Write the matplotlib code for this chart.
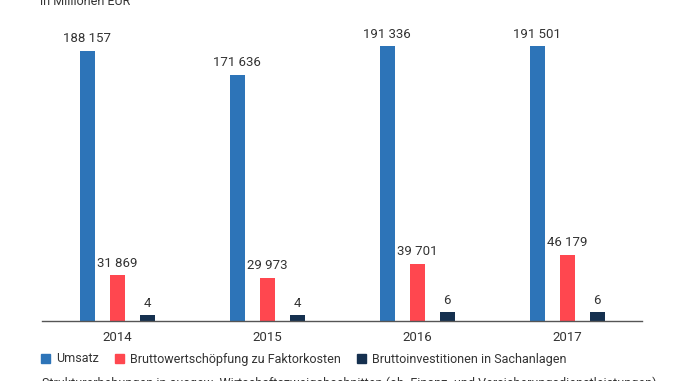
import matplotlib
matplotlib.use('Agg')
import matplotlib.pyplot as plt
from matplotlib.patches import Patch
import numpy as np

plt.rcParams['font.family'] = ['Roboto', 'DejaVu Sans']

years = ['2014', '2015', '2016', '2017']
umsatz = [188157, 171636, 191336, 191501]
wertschoepfung = [31869, 29973, 39701, 46179]
investitionen_mrd = [4, 4, 6, 6]  # beschriftet in Mrd, Höhe in Mio

series_names = ['Umsatz', 'Bruttowertschöpfung zu Faktorkosten',
                'Bruttoinvestitionen in Sachanlagen']
colors = ['#2d74b8', '#ff474f', '#15304f']
text_col = '#333333'
fs = 9


def fmt(v):
    return f'{v:,}'.replace(',', ' ')


W, H = 678, 381
fig = plt.figure(figsize=(W / 100, H / 100), dpi=100)
ax = fig.add_axes([42 / W, (H - 321) / H, 600 / W, 291 / H])

x = np.arange(len(years))
bw = 0.1
inv_height = np.array(investitionen_mrd) * 1000

b1 = ax.bar(x - 0.2, umsatz, bw, color=colors[0])
b2 = ax.bar(x, wertschoepfung, bw, color=colors[1])
b3 = ax.bar(x + 0.2, inv_height, bw, color=colors[2])

for bars, labels in [(b1, [fmt(v) for v in umsatz]),
                     (b2, [fmt(v) for v in wertschoepfung]),
                     (b3, [str(v) for v in investitionen_mrd])]:
    for b, lab in zip(bars, labels):
        ax.annotate(lab, (b.get_x() + b.get_width() / 2, b.get_height()),
                    xytext=(0, 4), textcoords='offset points',
                    ha='center', va='bottom', fontsize=fs + 0.5, color=text_col)

ax.set_xlim(-0.5, 3.5)
ax.set_ylim(0, 202800)
ax.set_xticks(x)
ax.set_xticklabels(years, fontsize=fs + 0.5, color=text_col)
ax.tick_params(axis='x', length=0, pad=7)
ax.set_yticks([])
for s in ['top', 'right', 'left']:
    ax.spines[s].set_visible(False)
ax.spines['bottom'].set_color('#555555')
ax.spines['bottom'].set_linewidth(1)

handles = [Patch(color=c, label=n) for c, n in zip(colors, series_names)]
fig.legend(handles=handles, loc='center left', ncol=3, frameon=False,
           bbox_to_anchor=(30 / W, 1 - 359 / H), fontsize=fs,
           handlelength=0.7, handleheight=0.7, handletextpad=0.5,
           columnspacing=1.3, labelcolor=text_col)

fig.text(40 / W, 1 - 5 / H, 'in Millionen EUR', fontsize=fs,
         color=text_col, va='baseline')
fig.text(42 / W, 1 - 387 / H,
         'Strukturerhebungen in ausgew. Wirtschaftszweigabschnitten '
         '(oh. Finanz- und Versicherungsdienstleistungen)',
         fontsize=fs, color=text_col, va='baseline')

fig.savefig('out.png', dpi=100)
